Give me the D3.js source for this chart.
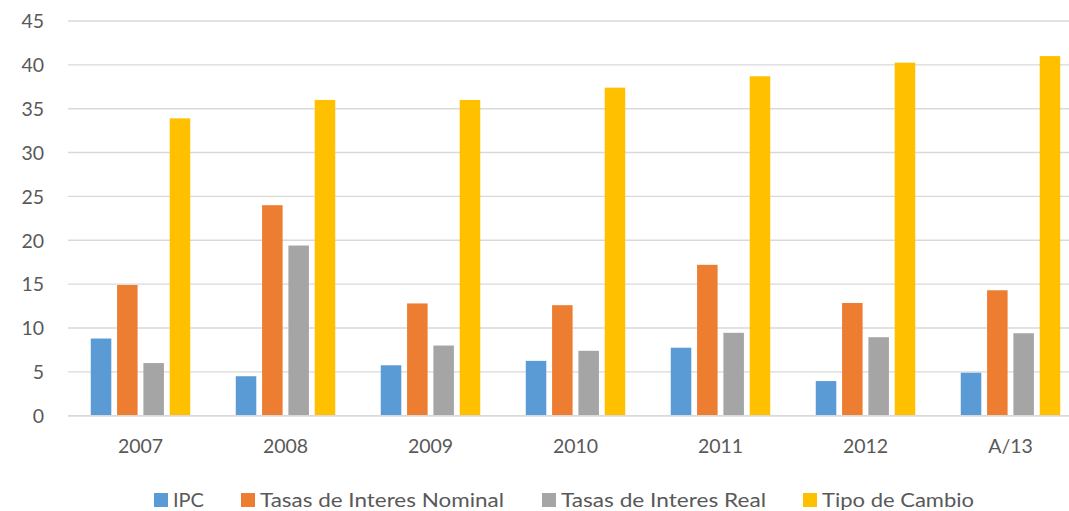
<!DOCTYPE html>
<html><head><meta charset="utf-8">
<script src="https://cdn.jsdelivr.net/npm/d3@7"></script>
<style>body{margin:0;background:#fff}svg{display:block}</style>
</head><body>
<svg id="c" width="1069" height="511"></svg>
<script>
const categories = ["2007","2008","2009","2010","2011","2012","A/13"];
const seriesNames = ["IPC","Tasas de Interes Nominal","Tasas de Interes Real","Tipo de Cambio"];
const ipc      = [8.8, 4.5, 5.75, 6.25, 7.75, 3.95, 4.9];
const nominal  = [14.9, 24.0, 12.8, 12.6, 17.2, 12.85, 14.3];
const real     = [6.0, 19.4, 8.0, 7.4, 9.45, 8.95, 9.4];
const tipo     = [33.9, 36.0, 36.0, 37.4, 38.7, 40.25, 41.0];
const yTicks   = [0,5,10,15,20,25,30,35,40,45];
const colors   = ["#5b9bd5","#ed7d31","#a5a5a5","#ffc000"];
const seriesValues = [ipc, nominal, real, tipo];

(function(){
const svg = d3.select("#c");
const pLeft = 68, pRight = 1083, pTop = 21, pBottom = 415.7;
const font = "Lato, 'Open Sans', sans-serif";

const y = d3.scaleLinear().domain([0,45]).range([pBottom, pTop]);
const x0 = d3.scaleBand().domain(categories).range([pLeft, pRight]).paddingInner(0.314).paddingOuter(0.157);
const x1 = d3.scaleBand().domain(d3.range(4)).range([0, x0.bandwidth()]).paddingInner(0.22).paddingOuter(0);

// gridlines
svg.append("g").selectAll("line").data(yTicks).join("line")
  .attr("x1", pLeft).attr("x2", pRight)
  .attr("y1", d => y(d)).attr("y2", d => y(d))
  .attr("stroke", "#d9d9d9").attr("stroke-width", 1.4);

// y axis labels
const yAxis = d3.axisLeft(y).tickValues(yTicks).tickSize(0).tickPadding(0);
const gy = svg.append("g").attr("transform", `translate(${pLeft-24},0)`).call(yAxis);
gy.select(".domain").remove();
gy.selectAll("text").attr("font-family", font).attr("font-size", 19.5).attr("fill", "#595959").attr("dy","0.35em");

// bars
const groups = svg.append("g").selectAll("g").data(categories).join("g")
  .attr("transform", d => `translate(${x0(d)},0)`);
groups.selectAll("rect").data((c, i) => seriesValues.map((s, k) => ({k, v: s[i]}))).join("rect")
  .attr("x", d => x1(d.k)).attr("width", x1.bandwidth())
  .attr("y", d => y(d.v)).attr("height", d => y(0) - y(d.v))
  .attr("fill", d => colors[d.k]);

// baseline redraw over bars
svg.append("line").attr("x1", pLeft).attr("x2", pRight).attr("y1", y(0)).attr("y2", y(0))
  .attr("stroke", "#d9d9d9").attr("stroke-width", 1.4);

// x axis labels
const xAxis = d3.axisBottom(x0).tickSize(0).tickPadding(0);
const gx = svg.append("g").attr("transform", `translate(0,453)`).call(xAxis);
gx.select(".domain").remove();
gx.selectAll("text").attr("font-family", font).attr("font-size", 19.5).attr("fill", "#595959").attr("dy", 0);

// legend
const legX = [154, 241, 542, 803];
const legW = [31, 244, 205, 152];
const leg = svg.append("g").selectAll("g").data(seriesNames).join("g")
  .attr("transform", (d, i) => `translate(${legX[i]},0)`);
leg.append("rect").attr("x", 0).attr("y", 493).attr("width", 14).attr("height", 14)
  .attr("fill", (d, i) => colors[i]);
leg.append("text").attr("x", 19).attr("y", 507).text(d => d)
  .attr("font-family", font).attr("font-size", 19.5).attr("fill", "#595959")
  .attr("textLength", (d, i) => legW[i]).attr("lengthAdjust", "spacingAndGlyphs");
})();
</script>
</body></html>
